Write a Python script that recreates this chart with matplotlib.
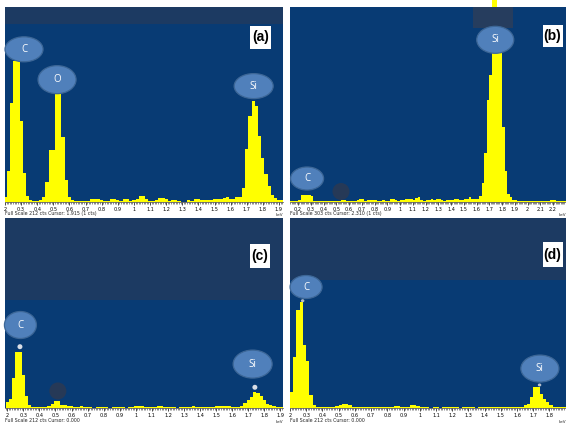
import numpy as np
import matplotlib
matplotlib.use("Agg")
import matplotlib.pyplot as plt
from matplotlib.patches import Ellipse, Rectangle
from matplotlib.ticker import MultipleLocator
from matplotlib.transforms import ScaledTranslation

W, H = 566, 424
BIN = 0.02  # keV per channel

# ---- spectrum (a): channel centres start at 0.20 keV ----
start_a = 0.20
counts_a = [5, 34, 108, 153, 153, 88, 32, 7, 2, 1,
            1, 2, 5, 22, 56, 56, 117, 117, 71, 24,
            5, 2, 1, 1, 1, 1, 1, 3, 3, 3,
            2, 1, 1, 3, 3, 2, 1, 3, 3, 1,
            2, 3, 7, 6, 3, 1, 1, 2, 4, 4,
            3, 1, 2, 2, 1, 0, 0, 2, 1, 3,
            3, 2, 2, 2, 2, 3, 3, 3, 4, 5,
            3, 3, 5, 5, 15, 58, 94, 110, 104, 72,
            48, 30, 17, 8, 4, 2, 2]

# ---- spectrum (b): starts at 0.15 keV, Si peak runs off scale ----
start_b = 0.15
counts_b = [2, 2, 2, 3, 11, 11, 11, 11, 9, 2,
            1, 1, 2, 1, 1, 2, 1, 1, 2, 2,
            3, 3, 2, 1, 2, 2, 3, 5, 4, 2,
            3, 3, 3, 3, 2, 2, 3, 2, 2, 4,
            4, 3, 2, 3, 3, 5, 4, 5, 3, 6,
            7, 3, 2, 3, 3, 4, 3, 5, 4, 3,
            2, 3, 3, 3, 4, 4, 3, 3, 4, 5,
            7, 4, 4, 5, 9, 29, 76, 158, 197, 420,
            420, 290, 250, 116, 48, 12, 7, 3, 3, 2,
            1, 2, 1, 2, 1, 1, 2, 1, 2, 1,
            1, 2, 3, 3, 1, 1, 2, 1]

# ---- spectrum (c) ----
start_c = 0.20
counts_c = [7, 10, 33, 63, 63, 37, 13, 3, 1, 1,
            1, 1, 1, 2, 4, 8, 8, 3, 3, 2,
            2, 1, 1, 2, 1, 1, 1, 0, 1, 1,
            1, 1, 0, 1, 1, 1, 1, 0, 1, 1,
            2, 2, 2, 1, 1, 1, 1, 2, 2, 1,
            1, 1, 1, 0, 1, 1, 1, 1, 2, 1,
            1, 1, 1, 1, 1, 2, 2, 2, 2, 2,
            1, 1, 1, 2, 6, 9, 12, 18, 17, 13,
            9, 5, 3, 2, 1, 1, 1]

# ---- spectrum (d): starts at 0.21 keV ----
start_d = 0.21
counts_d = [18, 57, 109, 118, 70, 53, 14, 3, 1, 1,
            1, 1, 1, 1, 2, 3, 4, 5, 3, 1,
            1, 1, 1, 1, 1, 1, 1, 1, 1, 1,
            1, 1, 2, 2, 1, 1, 1, 3, 3, 2,
            1, 1, 1, 0, 1, 1, 0, 1, 1, 1,
            1, 1, 0, 1, 1, 1, 1, 0, 1, 1,
            1, 1, 1, 1, 1, 1, 1, 1, 1, 1,
            1, 1, 3, 5, 12, 23, 23, 16, 10, 7,
            3, 1, 1, 1, 1]

panel_tags = ["(a)", "(b)", "(c)", "(d)"]
full_scale = [212, 303, 212, 212]
cursor_text = ["Cursor: 1.915 (1 cts)", "Cursor: 2.310 (1 cts)", "Cursor: 0.000", "Cursor: 0.000"]

MAIN = "#083b74"
BAND = "#1c3a62"
YEL = "#ffff00"
ELL_FC = "#5080bb"
ELL_EC = "#3d6797"

fig = plt.figure(figsize=(W / 100, H / 100), dpi=100)
fig.patch.set_facecolor("white")


def axpos(x0, y0, x1, y1):
    return [x0 / W, 1 - y1 / H, (x1 - x0) / W, (y1 - y0) / H]


def blob(ax, x, y, w, h, fc, ec="none", lw=0, z=5, alpha=1.0):
    tr = fig.dpi_scale_trans + ScaledTranslation(x, y, ax.transData)
    e = Ellipse((0, 0), w / 100, h / 100, transform=tr, fc=fc, ec=ec, lw=lw,
                zorder=z, alpha=alpha, clip_on=False)
    ax.add_artist(e)


def tag(ax, x, y, w, h, txt):
    blob(ax, x, y, w, h, ELL_FC, ELL_EC, 0.9, z=5)
    ax.text(x, y, txt, color="white", ha="center", va="center", fontsize=7,
            family="Open Sans", zorder=6)


def spectrum(box, start, counts, xlim, fs, band_frac, tick_max, first_lab):
    ax = fig.add_axes(axpos(*box))
    ax.set_facecolor(MAIN)
    x = start + BIN * np.arange(len(counts))
    bars = ax.bar(x, counts, width=BIN, color=YEL, linewidth=0, zorder=2)
    for b in bars:
        if b.get_height() > fs:
            b.set_clip_on(False)
    if band_frac is not None:
        ax.add_patch(Rectangle((0, band_frac), 1, 1 - band_frac, transform=ax.transAxes,
                               fc=BAND, ec="none", zorder=0))
    ax.set_xlim(*xlim)
    ax.set_ylim(0, fs)
    ax.set_yticks([])
    ticks = np.round(np.arange(0.2, tick_max + 0.001, 0.1), 1)
    ax.set_xticks(ticks)
    labs = [f"{t:g}" for t in ticks]
    labs[0] = first_lab
    ax.set_xticklabels(labs, fontsize=3.6)
    ax.xaxis.set_minor_locator(MultipleLocator(0.01))
    ax.tick_params(axis="x", which="major", length=2.5, width=0.5, pad=1.2, color="black")
    ax.tick_params(axis="x", which="minor", length=1.4, width=0.4, color="#333333")
    for s in ["top", "left", "right"]:
        ax.spines[s].set_visible(False)
    ax.spines["bottom"].set_linewidth(0.5)
    ax.spines["bottom"].set_color("#444444")
    return ax


ax_a = spectrum((5, 7, 283, 202), start_a, counts_a, (0.2, 1.925), 212, 0.913, 1.9, "2")
ax_b = spectrum((290, 7, 566, 202), start_b, counts_b, (0.137, 2.302), 303, None, 2.2, "0.2")
ax_c = spectrum((5, 218, 283, 408), start_c, counts_c, (0.186, 1.916), 212, 0.568, 1.9, "2")
ax_d = spectrum((290, 218, 566, 408), start_d, counts_d, (0.2, 1.902), 212, 0.674, 1.8, "2")

# overlay patches seen on the screenshots
ax_b.add_patch(Rectangle((1.573, 270), 0.314, 50, fc="#263d5e", ec="none", zorder=3))
blob(ax_b, 0.537, 16.3, 17, 17, "#2a3954", z=3, alpha=0.9)
blob(ax_c, 0.515, 19, 17, 17, "#2a3954", z=3, alpha=0.9)

# element labels
tag(ax_a, 0.318, 166, 38, 25, "C")
tag(ax_a, 0.523, 133, 38, 28, "O")
tag(ax_a, 1.743, 126, 39, 25, "Si")
tag(ax_b, 1.747, 252, 37, 27, "Si")
tag(ax_b, 0.271, 36.5, 33, 23, "C")
tag(ax_c, 0.282, 92.6, 32, 27, "C")
tag(ax_c, 1.727, 49, 39, 28, "Si")
tag(ax_d, 0.299, 135, 32, 23, "C")
tag(ax_d, 1.741, 44, 38, 27, "Si")

# peak cursors
blob(ax_c, 0.279, 68.4, 5, 5, "#d9dee6", z=4)
blob(ax_c, 1.741, 23.1, 5, 5, "#d9dee6", z=4)
blob(ax_d, 0.278, 119.7, 3.5, 3, "#b8c0cc", z=4)
blob(ax_d, 1.739, 25.7, 3.5, 3, "#b8c0cc", z=4)

# panel letters in white boxes
letter_boxes = [(249.5, 26, 21.5, 22.5), (542.5, 25, 20, 22), (249.5, 244, 20, 24), (542.5, 242, 20, 25)]
for (bx, by, bw, bh), t in zip(letter_boxes, panel_tags):
    fig.add_artist(Rectangle((bx / W, 1 - (by + bh) / H), bw / W, bh / H,
                             transform=fig.transFigure, fc="white", ec="none", zorder=10))
    fig.text((bx + bw / 2) / W, 1 - (by + bh / 2) / H, t, ha="center", va="center",
             fontsize=10, fontweight="bold", family="Liberation Sans", zorder=11)

# status lines under each spectrum
status_pos = [(5, 213.5, 283), (290, 213.5, 566), (5, 420.5, 283), (290, 420.5, 566)]
for (sx, sy, ex), fs, cur in zip(status_pos, full_scale, cursor_text):
    fig.text(sx / W, 1 - sy / H, f"Full Scale {fs} cts {cur}", fontsize=3.4,
             ha="left", va="center", color="#222222")
    fig.text(ex / W, 1 - (sy + 1.2) / H, "keV", fontsize=3.0, ha="right",
             va="center", color="#222222")

fig.savefig("out.png", dpi=100)
